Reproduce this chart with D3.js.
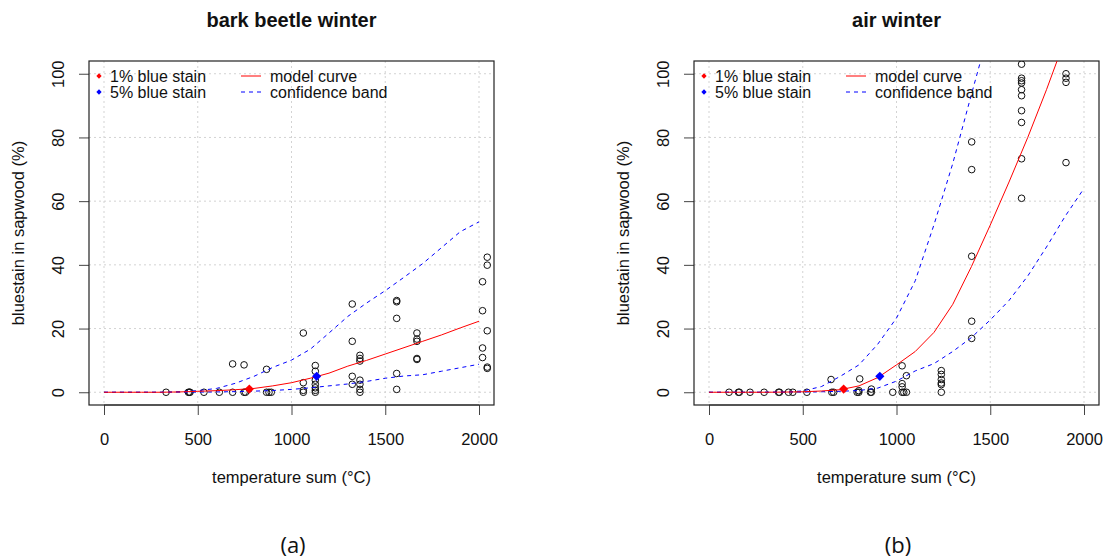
<!DOCTYPE html>
<html>
<head>
<meta charset="utf-8">
<script src="https://cdn.jsdelivr.net/npm/d3@7"></script>
<style>
  body { margin: 0; background: #fff; }
  svg text { font-family: "Liberation Sans", Arial, sans-serif; fill: #111; }
</style>
</head>
<body>
<svg id="chart" width="1104" height="558"></svg>
<script>
// ---- data ----
const xTicks = [0, 500, 1000, 1500, 2000];
const yTicks = [0, 20, 40, 60, 80, 100];
const curveX = [0, 100, 200, 300, 400, 500, 600, 700, 800, 900, 1000, 1100, 1200, 1300, 1400, 1500, 1600, 1700, 1800, 1900, 2000];

// bark beetle winter
const barkX = [331, 450, 455, 459, 533, 615, 686, 686, 747, 747, 755, 867, 867, 880, 892,
  1063, 1063, 1063, 1063, 1127, 1127, 1127, 1127, 1127, 1127, 1127,
  1324, 1324, 1324, 1324, 1365, 1365, 1365, 1365, 1365, 1365, 1365,
  1561, 1561, 1561, 1561, 1561, 1669, 1669, 1669, 1669, 1669,
  2019, 2044, 2044, 2019, 2044, 2019, 2019, 2044, 2044];
const barkY = [0, 0, 0, 0, 0, 0, 0, 8.9, 8.6, 0, 0, 7.2, 0, 0, 0,
  18.6, 3.0, 0.6, 0, 8.4, 6.6, 3.8, 2.5, 1.4, 0.6, 0,
  27.7, 16.0, 5.0, 2.5, 11.6, 10.6, 9.8, 3.8, 2.5, 0.9, 0,
  28.4, 28.8, 23.2, 5.9, 0.9, 18.6, 16.7, 16.0, 10.6, 10.3,
  34.7, 42.4, 39.9, 25.6, 19.3, 13.9, 10.9, 7.9, 7.5];
const barkModel = [0, 0, 0, 0, 0.1, 0.3, 0.5, 0.8, 1.2, 2.0, 3.0, 4.4, 6.0, 8.2, 10.0, 12.0, 14.0, 16.0, 18.0, 20.2, 22.3];
const barkUpper = [0, 0, 0, 0, 0.2, 0.5, 1.2, 2.8, 5.0, 7.8, 10.1, 13.5, 18.6, 23.8, 28.0, 31.9, 36.1, 40.4, 45.4, 50.4, 53.5];
const barkLower = [0, 0, 0, 0, 0.02, 0.05, 0.1, 0.2, 0.35, 0.55, 0.9, 1.4, 2.0, 2.6, 3.4, 4.4, 5.1, 5.5, 6.6, 7.7, 8.8];
const barkMarkX = [775, 1134];
const barkMarkY = [1, 5];

// air winter
const airX = [107, 157, 162, 219, 294, 371, 376, 424, 447, 522, 655, 665, 790, 799, 861, 866, 980, 1030, 1039, 1053, 1239,
  651, 804, 866, 799, 1030, 1053, 1030, 1030, 1239, 1239, 1239, 1239, 1239,
  1401, 1401, 1401, 1401, 1401,
  1667, 1667, 1667, 1667, 1667, 1667, 1667, 1667, 1667, 1667,
  1904, 1904, 1904, 1904];
const airY = [0, 0, 0, 0, 0, 0, 0, 0, 0, 0, 0, 0, 0, 0, 0, 0, 0, 0, 0, 0, 0,
  4.0, 4.2, 1.0, 0.5, 8.3, 5.2, 2.7, 1.7, 6.8, 5.6, 4.0, 2.9, 2.4,
  78.6, 69.9, 42.7, 22.3, 16.9,
  103, 98.6, 97.8, 97.1, 95, 93.1, 88.4, 84.7, 73.3, 60.9,
  100, 98.6, 97.3, 72.1];
const airModel = [0, 0, 0, 0, 0.05, 0.15, 0.4, 0.8, 2.0, 4.6, 8.6, 12.8, 18.8, 27.6, 39.5, 52.5, 66.0, 80.0, 95.0, 111, 128];
const airUpper = [0, 0, 0, 0, 0.1, 0.4, 1.8, 5.0, 8.6, 15.1, 23.3, 35.0, 52.6, 71.8, 93.6, 115, 140, 165, 190, 215, 240];
const airLower = [0, 0, 0, 0, 0.02, 0.05, 0.15, 0.3, 0.55, 1.3, 3.5, 6.7, 9.0, 12.8, 17.2, 22.7, 28.8, 36.5, 45.6, 55.3, 64];
const airMarkX = [718, 911];
const airMarkY = [1, 5];

const legendLabels = ['1% blue stain', '5% blue stain', 'model curve', 'confidence band'];
const markColors = ['red', 'blue'];

const svg = d3.select('#chart');
const boxW = 405, boxTop = 61, boxBottom = 405;

function drawPanel(opt) {
  const g = svg.append('g').attr('transform', 'translate(' + opt.left + ',0)');

  const x = d3.scaleLinear().domain([-80, 2080]).range([0, boxW]);
  const y = d3.scaleLinear().domain([-4, 104]).range([boxBottom, boxTop]);

  const clipId = 'clip' + opt.left;
  g.append('clipPath').attr('id', clipId)
    .append('rect').attr('x', 0).attr('y', boxTop).attr('width', boxW).attr('height', boxBottom - boxTop);

  // grid
  g.selectAll('.vgrid').data(xTicks).enter().append('line')
    .attr('x1', d => x(d)).attr('x2', d => x(d))
    .attr('y1', boxTop).attr('y2', boxBottom)
    .attr('stroke', '#d3d3d3').attr('stroke-dasharray', '2,3');
  g.selectAll('.hgrid').data(yTicks).enter().append('line')
    .attr('x1', 0).attr('x2', boxW)
    .attr('y1', d => y(d)).attr('y2', d => y(d))
    .attr('stroke', '#d3d3d3').attr('stroke-dasharray', '2,3');

  // axes
  const xAxis = g.append('g').attr('transform', 'translate(0,' + boxBottom + ')')
    .call(d3.axisBottom(x).tickValues(xTicks).tickSize(10).tickPadding(18).tickFormat(d3.format('d')));
  xAxis.select('.domain').attr('d', 'M' + x(0) + ',0H' + x(2000)).attr('stroke', '#444');
  xAxis.selectAll('.tick line').attr('stroke', '#444');
  xAxis.selectAll('text').attr('font-size', '16.5px').attr('fill', '#111');

  const yAxis = g.append('g')
    .call(d3.axisLeft(y).tickValues(yTicks).tickSize(10));
  yAxis.select('.domain').remove();
  yAxis.selectAll('.tick line').attr('stroke', '#444');
  yAxis.selectAll('text')
    .attr('font-size', '16.5px').attr('fill', '#111')
    .attr('x', null).attr('dy', null)
    .attr('text-anchor', 'middle')
    .attr('transform', 'translate(-25,0) rotate(-90)');

  // box
  g.append('rect').attr('x', 0).attr('y', boxTop)
    .attr('width', boxW).attr('height', boxBottom - boxTop)
    .attr('fill', 'none').attr('stroke', '#222').attr('stroke-width', 1.2);

  const plot = g.append('g').attr('clip-path', 'url(#' + clipId + ')');
  const line = d3.line().x(d => x(d[0])).y(d => y(d[1]));

  // points
  plot.selectAll('.pt').data(d3.zip(opt.px, opt.py)).enter().append('circle')
    .attr('cx', d => x(d[0])).attr('cy', d => y(d[1])).attr('r', 3.3)
    .attr('fill', 'none').attr('stroke', '#111').attr('stroke-width', 1);

  // curves
  plot.append('path').datum(d3.zip(curveX, opt.upper)).attr('d', line)
    .attr('fill', 'none').attr('stroke', 'blue').attr('stroke-dasharray', '4,4');
  plot.append('path').datum(d3.zip(curveX, opt.lower)).attr('d', line)
    .attr('fill', 'none').attr('stroke', 'blue').attr('stroke-dasharray', '4,4');
  plot.append('path').datum(d3.zip(curveX, opt.model)).attr('d', line)
    .attr('fill', 'none').attr('stroke', 'red');

  // 1% / 5% markers
  const diamond = d3.symbol().type(d3.symbolSquare).size(42);
  plot.selectAll('.mk').data(d3.zip(opt.mx, opt.my, markColors)).enter().append('path')
    .attr('d', diamond)
    .attr('transform', d => 'translate(' + x(d[0]) + ',' + y(d[1]) + ') rotate(45)')
    .attr('fill', d => d[2]);

  // legend
  const small = d3.symbol().type(d3.symbolSquare).size(14);
  const leg = g.append('g');
  [0, 1].forEach(i => {
    const ly = 76 + i * 16;
    leg.append('path').attr('d', small)
      .attr('transform', 'translate(10,' + ly + ') rotate(45)').attr('fill', markColors[i]);
    leg.append('text').attr('x', 21).attr('y', ly).attr('dy', '0.35em')
      .attr('font-size', '16px').text(legendLabels[i]);
    leg.append('line').attr('x1', 152).attr('x2', 172).attr('y1', ly).attr('y2', ly)
      .attr('stroke', i === 0 ? 'red' : 'blue')
      .attr('stroke-dasharray', i === 0 ? null : '4,4');
    leg.append('text').attr('x', 181).attr('y', ly).attr('dy', '0.35em')
      .attr('font-size', '16px').text(legendLabels[i + 2]);
  });

  // titles
  g.append('text').attr('x', boxW / 2).attr('y', 27).attr('text-anchor', 'middle')
    .attr('font-size', '20px').attr('font-weight', 'bold').text(opt.title);
  g.append('text').attr('x', boxW / 2).attr('y', 483).attr('text-anchor', 'middle')
    .attr('font-size', '16.5px').text('temperature sum (°C)');
  g.append('text').attr('transform', 'translate(-65,' + (boxTop + boxBottom) / 2 + ') rotate(-90)')
    .attr('text-anchor', 'middle').attr('font-size', '16.5px').text('bluestain in sapwood (%)');
  g.append('text').attr('x', 204).attr('y', 553).attr('text-anchor', 'middle')
    .style('font-family', '"Open Sans", "Noto Sans", sans-serif')
    .attr('font-size', '22px').text(opt.tag);
}

drawPanel({ left: 89, title: 'bark beetle winter', tag: '(a)', px: barkX, py: barkY,
  model: barkModel, upper: barkUpper, lower: barkLower, mx: barkMarkX, my: barkMarkY });
drawPanel({ left: 694, title: 'air winter', tag: '(b)', px: airX, py: airY,
  model: airModel, upper: airUpper, lower: airLower, mx: airMarkX, my: airMarkY });
</script>
</body>
</html>
